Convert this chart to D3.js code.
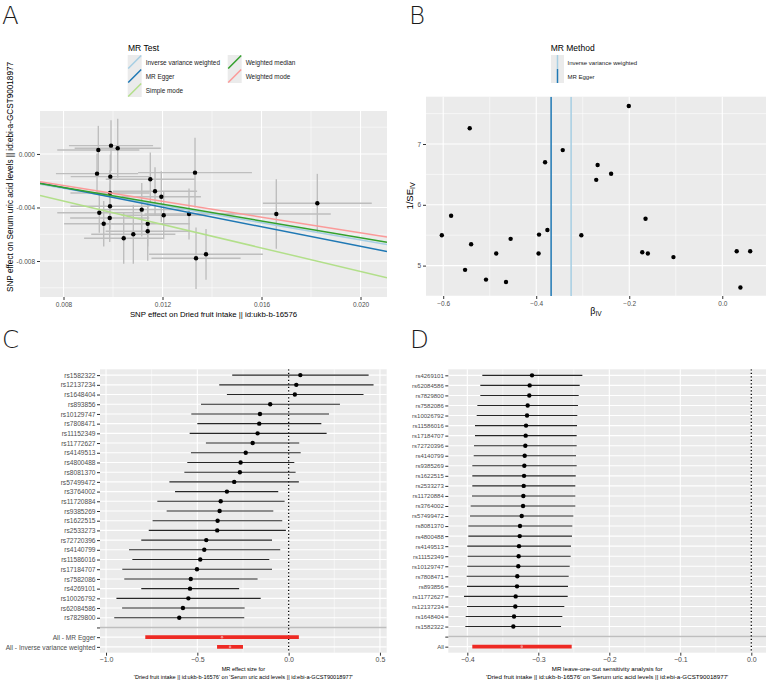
<!DOCTYPE html>
<html>
<head>
<meta charset="utf-8">
<title>MR plots</title>
<style>
  body { margin: 0; background: #fff; }
  svg { display: block; font-family: "Liberation Sans", Arial, sans-serif; }
  .letter { font-family: "DejaVu Sans", sans-serif; font-weight: 200; font-size: 24.5px; fill: #1a1a1a; }
  .axis text { fill: #4d4d4d; }
  .axis line { stroke: #333; }
  .axis path { display: none; }
</style>
</head>
<body>
<svg width="767" height="682"></svg>
<script src="https://d3js.org/d3.v7.min.js"></script>
<script>
// ---- A: scatter (SNP effect on exposure vs outcome)
const scatterBx = [0.009406, 0.009919, 0.010190, 0.009354, 0.009891, 0.011507, 0.013313, 0.011697, 0.011952,
  0.009879, 0.011160, 0.009446, 0.012048, 0.013071, 0.009867, 0.009624, 0.011402, 0.011402, 0.010820,
  0.010432, 0.013354, 0.013758, 0.016598, 0.018255, 0.009879];
const scatterBy = [0.000299, 0.000621, 0.000426, -0.001473, -0.001697, -0.001892, -0.001398, -0.002789, -0.003193,
  -0.003910, -0.004164, -0.004389, -0.004583, -0.004486, -0.004785, -0.005211, -0.005211, -0.005779, -0.006004,
  -0.006303, -0.007798, -0.007499, -0.004486, -0.003686, -0.002916];
const scatterSeX = [0.00166, 0.0017, 0.00174, 0.00166, 0.0016, 0.0018, 0.0023, 0.0017, 0.0016,
  0.0016, 0.0017, 0.0017, 0.0017, 0.0018, 0.0016, 0.0016, 0.0017, 0.0017, 0.0017,
  0.0016, 0.0018, 0.0023, 0.0022, 0.0022, 0.0016];
const scatterSeY = [0.0018, 0.0019, 0.0022, 0.0015, 0.00165, 0.002, 0.0026, 0.0018, 0.0019,
  0.0017, 0.002, 0.0015, 0.0018, 0.0019, 0.0018, 0.0017, 0.0017, 0.0022, 0.0022,
  0.0019, 0.0023, 0.0019, 0.0026, 0.0022, 0.0017];

const methodNames = ["Inverse variance weighted", "MR Egger", "Simple mode", "Weighted median", "Weighted mode"];
const methodSlopes = [-0.321, -0.365, -0.439, -0.313, -0.295];
const methodIntercepts = [0, 0.0004, 0, 0, 0];
const methodPalette = ["#a6cee3", "#1f78b4", "#b2df8a", "#33a02c", "#fb9a99"];

const scatterXTicks = [0.008, 0.012, 0.016, 0.020];
const scatterYTicks = [0.000, -0.004, -0.008];

// ---- B: funnel
const funnelBeta = [-0.201, -0.543, -0.343, -0.381, -0.268, -0.239, -0.271, -0.583, -0.165, -0.603, -0.376,
  -0.394, -0.303, -0.455, -0.540, -0.486, -0.395, -0.172, -0.160, -0.105, 0.031, 0.060, -0.553, -0.508, -0.465, 0.039];
const funnelInvSe = [7.625, 7.258, 6.90, 6.70, 6.655, 6.51, 6.41, 5.82, 5.77, 5.50, 5.585,
  5.51, 5.50, 5.44, 5.35, 5.20, 5.20, 5.22, 5.20, 5.14, 5.235, 5.235, 4.93, 4.77, 4.73, 4.64];
const funnelMethods = ["Inverse variance weighted", "MR Egger"];
const funnelEstimates = [-0.325, -0.368];
const funnelXTicks = [-0.6, -0.4, -0.2, 0.0];
const funnelYTicks = [5, 6, 7];

// ---- C: forest plot
const forestSnps = ["rs1582322", "rs12137234", "rs1648404", "rs893856", "rs10129747", "rs7808471", "rs11152349",
  "rs11772627", "rs4149513", "rs4800488", "rs8081370", "rs57499472", "rs3764002", "rs11720884", "rs9385269",
  "rs1622515", "rs2533273", "rs72720396", "rs4140799", "rs11586016", "rs17184707", "rs7582086", "rs4269101",
  "rs10026792", "rs62084586", "rs7829800"];
const forestB = [0.064, 0.042, 0.034, -0.101, -0.157, -0.161, -0.170, -0.197, -0.235, -0.263, -0.267, -0.298, -0.338,
  -0.372, -0.378, -0.389, -0.391, -0.451, -0.462, -0.484, -0.502, -0.536, -0.540, -0.549, -0.579, -0.599];
const forestLo = [-0.309, -0.380, -0.338, -0.480, -0.533, -0.500, -0.542, -0.453, -0.535, -0.555, -0.571, -0.653, -0.622,
  -0.719, -0.668, -0.745, -0.766, -0.807, -0.874, -0.856, -0.911, -0.900, -0.807, -0.943, -0.912, -0.955];
const forestHi = [0.438, 0.465, 0.410, 0.281, 0.221, 0.179, 0.208, 0.058, 0.066, 0.031, 0.038, 0.056, -0.057,
  -0.022, -0.084, -0.035, -0.015, -0.091, -0.046, -0.106, -0.091, -0.170, -0.271, -0.153, -0.241, -0.243];
const forestAllLabels = ["All - MR Egger", "All - Inverse variance weighted"];
const forestAllB = [-0.365, -0.321];
const forestAllLo = [-0.785, -0.392];
const forestAllHi = [0.056, -0.250];
const forestXTicks = [-1.0, -0.5, 0.0, 0.5];

// ---- D: leave-one-out
const looSnps = ["rs4269101", "rs62084586", "rs7829800", "rs7582086", "rs10026792", "rs11586016", "rs17184707",
  "rs72720396", "rs4140799", "rs9385269", "rs1622515", "rs2533273", "rs11720884", "rs3764002", "rs57499472",
  "rs8081370", "rs4800488", "rs4149513", "rs11152349", "rs10129747", "rs7808471", "rs893856", "rs11772627",
  "rs12137234", "rs1648404", "rs1582322"];
const looB = [-0.3089, -0.3122, -0.3127, -0.3150, -0.3159, -0.3173, -0.3178, -0.3183, -0.3192, -0.3197, -0.3201,
  -0.3206, -0.3211, -0.3215, -0.3234, -0.3258, -0.3262, -0.3272, -0.3277, -0.3282, -0.3296, -0.3300, -0.3319,
  -0.3324, -0.3342, -0.3352];
const looLo = [-0.3789, -0.3817, -0.3817, -0.3859, -0.3868, -0.3892, -0.3892, -0.3906, -0.3910, -0.3930, -0.3930,
  -0.3930, -0.3934, -0.3953, -0.3962, -0.3986, -0.3986, -0.4000, -0.3995, -0.4000, -0.4009, -0.4005, -0.4047,
  -0.4005, -0.4023, -0.4028];
const looHi = [-0.2380, -0.2417, -0.2431, -0.2441, -0.2451, -0.2455, -0.2460, -0.2460, -0.2469, -0.2460, -0.2473,
  -0.2479, -0.2479, -0.2479, -0.2507, -0.2521, -0.2526, -0.2540, -0.2544, -0.2558, -0.2572, -0.2582, -0.2586,
  -0.2634, -0.2662, -0.2680];
const looAllLabels = ["All"];
const looAllB = [-0.3234];
const looAllLo = [-0.393];
const looAllHi = [-0.253];
const looXTicks = [-0.4, -0.3, -0.2, -0.1, 0.0];

const svg = d3.select("svg");
svg.append("rect").attr("width", 767).attr("height", 682).attr("fill", "#fff");

const panelFill = "#ebebeb";
const errGrey = "#bebebe";
const redBar = "#ee2a24";
const methodColor = d3.scaleOrdinal(methodNames, methodPalette);

let clipId = 0;
function panel(x, y, xMajor, xMinor, yMajor, yMinor) {
  const [x0, x1] = x.range();
  const yr = y.range();
  const y0 = Math.min(...yr), y1 = Math.max(...yr);
  const g = svg.append("g");
  g.append("rect").attr("x", x0).attr("y", y0).attr("width", x1 - x0).attr("height", y1 - y0).attr("fill", panelFill);
  const grid = (vals, w, vertical) => g.append("g").selectAll("line").data(vals).join("line")
    .attr("x1", d => vertical ? x(d) : x0).attr("x2", d => vertical ? x(d) : x1)
    .attr("y1", d => vertical ? y0 : y(d)).attr("y2", d => vertical ? y1 : y(d))
    .attr("stroke", "#fff").attr("stroke-width", w);
  grid(xMinor, 0.55, true);
  grid(yMinor, 0.55, false);
  grid(xMajor, 1.1, true);
  grid(yMajor, 1.1, false);
  const id = "clip" + (clipId++);
  svg.append("clipPath").attr("id", id).append("rect")
    .attr("x", x0).attr("y", y0).attr("width", x1 - x0).attr("height", y1 - y0);
  return svg.append("g").attr("clip-path", `url(#${id})`);
}

function styleAxis(sel, size) {
  sel.attr("class", "axis").attr("font-size", size).attr("font-family", null);
  sel.select(".domain").remove();
}

// ================= A =================
const xA = d3.scaleLinear([0.00705, 0.02107], [40, 387]);
const yA = d3.scaleLinear([-0.01069, 0.00321], [297, 111]);
const gA = panel(xA, yA, scatterXTicks, [0.010, 0.014, 0.018], scatterYTicks, [0.002, -0.002, -0.006, -0.010]);
const snpsA = d3.range(scatterBx.length);
gA.append("g").selectAll("line").data(snpsA).join("line")
  .attr("x1", i => xA(scatterBx[i])).attr("x2", i => xA(scatterBx[i]))
  .attr("y1", i => yA(scatterBy[i] - scatterSeY[i])).attr("y2", i => yA(scatterBy[i] + scatterSeY[i]))
  .attr("stroke", errGrey).attr("stroke-width", 1.4);
gA.append("g").selectAll("line").data(snpsA).join("line")
  .attr("x1", i => xA(scatterBx[i] - scatterSeX[i])).attr("x2", i => xA(scatterBx[i] + scatterSeX[i]))
  .attr("y1", i => yA(scatterBy[i])).attr("y2", i => yA(scatterBy[i]))
  .attr("stroke", errGrey).attr("stroke-width", 1.4);
gA.append("g").selectAll("circle").data(snpsA).join("circle")
  .attr("cx", i => xA(scatterBx[i])).attr("cy", i => yA(scatterBy[i])).attr("r", 2.2).attr("fill", "#000");
const [ax0, ax1] = xA.domain();
gA.append("g").selectAll("line").data(d3.range(methodNames.length)).join("line")
  .attr("x1", xA(ax0)).attr("x2", xA(ax1))
  .attr("y1", i => yA(methodIntercepts[i] + methodSlopes[i] * ax0))
  .attr("y2", i => yA(methodIntercepts[i] + methodSlopes[i] * ax1))
  .attr("stroke", i => methodColor(methodNames[i])).attr("stroke-width", 1.5);

svg.append("g").attr("transform", "translate(0,297)")
  .call(d3.axisBottom(xA).tickValues(scatterXTicks).tickFormat(d3.format(".3f")).tickSize(3).tickPadding(2))
  .call(s => styleAxis(s, 6.5));
svg.append("g").attr("transform", "translate(40,0)")
  .call(d3.axisLeft(yA).tickValues(scatterYTicks).tickFormat(d => d3.format(".3f")(d).replace("−", "-")).tickSize(3).tickPadding(2))
  .call(s => styleAxis(s, 6.5));
svg.append("text").attr("x", 213.5).attr("y", 317).attr("text-anchor", "middle").attr("font-size", 7.8)
  .text("SNP effect on Dried fruit intake || id:ukb-b-16576");
svg.append("text").attr("transform", "translate(13,177) rotate(-90)").attr("text-anchor", "middle").attr("font-size", 8.2)
  .text("SNP effect on Serum uric acid levels || id:ebi-a-GCST90018977");

// legend A
svg.append("text").attr("x", 128).attr("y", 51).attr("font-size", 8.5).text("MR Test");
const legA = svg.append("g").selectAll("g").data(methodNames).join("g")
  .attr("transform", (d, i) => `translate(${i < 3 ? 127.7 : 227.7},${55 + (i % 3) * 14})`);
legA.append("rect").attr("width", 14).attr("height", 14).attr("fill", "#ebebeb");
legA.append("line").attr("x1", 0.5).attr("y1", 13.5).attr("x2", 13.5).attr("y2", 0.5)
  .attr("stroke", d => methodColor(d)).attr("stroke-width", 1.5);
legA.append("text").attr("x", 18).attr("y", 9.6).attr("font-size", 6.4).attr("fill", "#1a1a1a").text(d => d);

// ================= B =================
const xB = d3.scaleLinear([-0.637, 0.094], [426, 766]);
const yB = d3.scaleLinear([4.50, 7.778], [296, 96.7]);
const gB = panel(xB, yB, funnelXTicks, [-0.5, -0.3, -0.1], funnelYTicks, [4.5, 5.5, 6.5, 7.5]);
gB.append("g").selectAll("circle").data(funnelBeta).join("circle")
  .attr("cx", d => xB(d)).attr("cy", (d, i) => yB(funnelInvSe[i])).attr("r", 2.2).attr("fill", "#000");
gB.append("g").selectAll("line").data(funnelEstimates).join("line")
  .attr("x1", d => xB(d)).attr("x2", d => xB(d)).attr("y1", 96.7).attr("y2", 296)
  .attr("stroke", (d, i) => methodColor(funnelMethods[i])).attr("stroke-width", 1.5);
svg.append("g").attr("transform", "translate(0,296)")
  .call(d3.axisBottom(xB).tickValues(funnelXTicks).tickFormat(d3.format(".1f")).tickSize(3).tickPadding(2))
  .call(s => styleAxis(s, 6.5));
svg.append("g").attr("transform", "translate(426,0)")
  .call(d3.axisLeft(yB).tickValues(funnelYTicks).tickFormat(d3.format("d")).tickSize(3).tickPadding(2))
  .call(s => styleAxis(s, 6.5));
const bx = svg.append("text").attr("x", 596).attr("y", 314).attr("text-anchor", "middle").attr("font-size", 9);
bx.append("tspan").text("β");
bx.append("tspan").attr("font-size", 6.5).attr("dy", 2).text("IV");
const by = svg.append("text").attr("transform", "translate(413,196) rotate(-90)").attr("text-anchor", "middle").attr("font-size", 9.5);
by.append("tspan").text("1/SE");
by.append("tspan").attr("font-size", 7).attr("dy", 2).text("IV");

// legend B
svg.append("text").attr("x", 550.7).attr("y", 51).attr("font-size", 8.5).text("MR Method");
const legB = svg.append("g").selectAll("g").data(funnelMethods).join("g")
  .attr("transform", (d, i) => `translate(551,${55 + i * 14})`);
legB.append("rect").attr("width", 13).attr("height", 14).attr("fill", "#ebebeb");
legB.append("line").attr("x1", 6.5).attr("x2", 6.5).attr("y1", 0).attr("y2", 14)
  .attr("stroke", d => methodColor(d)).attr("stroke-width", 1.5);
legB.append("text").attr("x", 16.5).attr("y", 9.6).attr("font-size", 6).attr("fill", "#1a1a1a").text(d => d);

// ================= forest helper =================
function forest(cfg) {
  const nSnp = cfg.snps.length;
  const nAll = cfg.allLabels.length;
  const nRows = nSnp + 1 + nAll;
  const x = d3.scaleLinear(cfg.xDomain, cfg.xRange);
  const y = d3.scaleLinear([0.4, nRows + 0.6], cfg.yRange);
  const rows = d3.range(1, nRows + 1);
  const g = panel(x, y, cfg.xTicks, cfg.xMinor, rows, []);
  // separator row
  g.append("line").attr("x1", cfg.xRange[0]).attr("x2", cfg.xRange[1])
    .attr("y1", y(nSnp + 1)).attr("y2", y(nSnp + 1)).attr("stroke", "#bebebe").attr("stroke-width", 1.5);
  g.append("line").attr("x1", x(0)).attr("x2", x(0)).attr("y1", cfg.yRange[0]).attr("y2", cfg.yRange[1])
    .attr("stroke", "#000").attr("stroke-width", 1.3).attr("stroke-dasharray", "1.3,2.2");
  const idx = d3.range(nSnp);
  g.append("g").selectAll("line").data(idx).join("line")
    .attr("x1", i => x(cfg.lo[i])).attr("x2", i => x(cfg.hi[i]))
    .attr("y1", i => y(i + 1)).attr("y2", i => y(i + 1))
    .attr("stroke", "#262626").attr("stroke-width", 1.1);
  g.append("g").selectAll("circle").data(idx).join("circle")
    .attr("cx", i => x(cfg.b[i])).attr("cy", i => y(i + 1)).attr("r", 2.2).attr("fill", "#000");
  const allIdx = d3.range(nAll);
  g.append("g").selectAll("line").data(allIdx).join("line")
    .attr("x1", i => x(cfg.allLo[i])).attr("x2", i => x(cfg.allHi[i]))
    .attr("y1", i => y(nSnp + 2 + i)).attr("y2", i => y(nSnp + 2 + i))
    .attr("stroke", redBar).attr("stroke-width", 3.8);
  g.append("g").selectAll("circle").data(allIdx).join("circle")
    .attr("cx", i => x(cfg.allB[i])).attr("cy", i => y(nSnp + 2 + i)).attr("r", 1.3).attr("fill", "#f38b86");
  const labels = [...cfg.snps, "", ...cfg.allLabels];
  svg.append("g").attr("transform", `translate(0,${cfg.yRange[1]})`)
    .call(d3.axisBottom(x).tickValues(cfg.xTicks).tickFormat(d3.format(".1f")).tickSize(3).tickPadding(1.5))
    .call(s => styleAxis(s, cfg.tickSize));
  svg.append("g").attr("transform", `translate(${cfg.xRange[0]},0)`)
    .call(d3.axisLeft(y).tickValues(rows).tickFormat(r => labels[r - 1]).tickSize(3).tickPadding(1.5))
    .call(s => styleAxis(s, cfg.labelSize));
  const cx = (cfg.xRange[0] + cfg.xRange[1]) / 2;
  svg.append("text").attr("x", cx).attr("y", 671.2).attr("text-anchor", "middle").attr("font-size", cfg.titleSize)
    .text(cfg.title);
  svg.append("text").attr("x", cx).attr("y", 678.6).attr("text-anchor", "middle").attr("font-size", cfg.titleSize)
    .text("'Dried fruit intake || id:ukb-b-16576' on 'Serum uric acid levels || id:ebi-a-GCST90018977'");
}

forest({
  snps: forestSnps, b: forestB, lo: forestLo, hi: forestHi,
  allLabels: forestAllLabels, allB: forestAllB, allLo: forestAllLo, allHi: forestAllHi,
  xDomain: [-1.033, 0.537], xRange: [100, 386.7], yRange: [369.3, 652.7],
  xTicks: forestXTicks, xMinor: [-0.75, -0.25, 0.25],
  tickSize: 7, labelSize: 6.6, titleSize: 5.6, title: "MR effect size for"
});

forest({
  snps: looSnps, b: looB, lo: looLo, hi: looHi,
  allLabels: looAllLabels, allB: looAllB, allLo: looAllLo, allHi: looAllHi,
  xDomain: [-0.4268, 0.0207], xRange: [448.3, 766], yRange: [369.3, 652.7],
  xTicks: looXTicks, xMinor: [-0.35, -0.25, -0.15, -0.05],
  tickSize: 7, labelSize: 6, titleSize: 6.2, title: "MR leave-one-out sensitivity analysis for"
});

// panel letters
svg.append("g").selectAll("text").data([["A", 2, 24], ["B", 409, 24], ["C", 2, 348], ["D", 410, 348]])
  .join("text").attr("class", "letter").attr("x", d => d[1]).attr("y", d => d[2]).text(d => d[0]);
</script>
</body>
</html>
